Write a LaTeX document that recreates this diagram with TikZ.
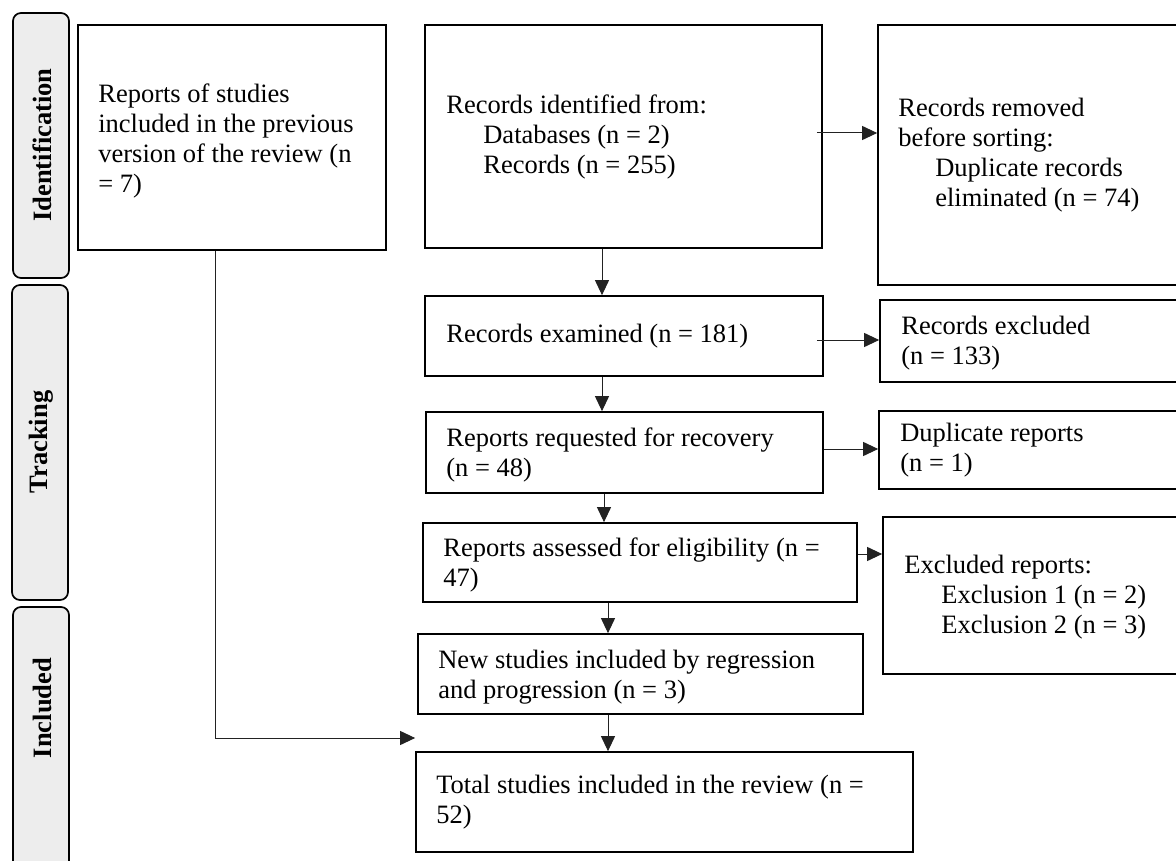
\documentclass[tikz,border=0pt]{standalone}
\usepackage{fontspec}
\setmainfont{Liberation Serif}
\usetikzlibrary{arrows.meta}

\definecolor{phasefill}{HTML}{EDEDED}
\definecolor{linkgray}{HTML}{222222}

\tikzset{
  box/.style={draw=black, line width=1.7pt, fill=white, rectangle, inner sep=0pt},
  txt/.style={anchor=west, align=left, inner sep=0pt,
              font=\fontsize{26.5}{30}\selectfont},
  phase/.style={draw=black, line width=1.7pt, fill=phasefill, rounded corners=8pt},
  phaselabel/.style={rotate=90, inner sep=0pt,
                     font=\fontsize{26.5}{30}\selectfont\bfseries},
  link/.style={draw=linkgray, line width=1pt,
               -{Triangle[length=15pt, width=14pt]}},
}
\newcommand{\ind}{\hspace*{37pt}}

\begin{document}
\begin{tikzpicture}[x=1pt, y=-1pt]
  \useasboundingbox (0,0) rectangle (1176,861);
  \clip (0,0) rectangle (1176,861);

  % phase bars on the left
  \draw[phase] (13,13) rectangle (69,278);
  \node[phaselabel] (pid) at (42,145) {Identification};
  \draw[phase] (12,285) rectangle (68,600);
  \node[phaselabel] (ptr) at (41,442) {Tracking};
  \draw[phase] (13,607) rectangle (69,900);
  \node[phaselabel] (pin) at (42,708) {Included};

  % boxes: centre = midpoint of the corners, size = corner differences
  \node[box, minimum width=308, minimum height=225] (A) at (232,137.5) {};
  \node[box, minimum width=397, minimum height=223] (B) at (623.5,136.5) {};
  \node[box, minimum width=320, minimum height=260] (C) at (1038,155) {};
  \node[box, minimum width=398, minimum height=80]  (D) at (624,336) {};
  \node[box, minimum width=320, minimum height=82]  (E) at (1040,341) {};
  \node[box, minimum width=397, minimum height=81]  (F) at (624.5,452.5) {};
  \node[box, minimum width=320, minimum height=78]  (G) at (1039,450) {};
  \node[box, minimum width=434, minimum height=79]  (H) at (640,562.5) {};
  \node[box, minimum width=320, minimum height=157] (I) at (1043,595.5) {};
  \node[box, minimum width=445, minimum height=80]  (J) at (640.5,674) {};
  \node[box, minimum width=497, minimum height=100] (K) at (664.5,802) {};

  % box texts
  \node[txt] (At) at ([xshift=21pt,yshift=-3pt]A.west)
    {Reports of studies\\ included in the previous\\ version of the review (n\\ = 7)};
  \node[txt] (Bt) at ([xshift=22pt]B.west)
    {Records identified from:\\ \ind Databases (n = 2)\\ \ind Records (n = 255)};
  \node[txt] (Ct) at ([xshift=21pt]C.west)
    {Records removed\\ before sorting:\\ \ind Duplicate records\\ \ind eliminated (n = 74)};
  \node[txt] (Dt) at ([xshift=22pt]D.west) {Records examined (n = 181)};
  \node[txt] (Et) at ([xshift=22pt,yshift=-2pt]E.west) {Records excluded\\ (n = 133)};
  \node[txt] (Ft) at ([xshift=21pt,yshift=-2pt]F.west) {Reports requested for recovery\\ (n = 48)};
  \node[txt] (Gt) at ([xshift=22pt]G.west) {Duplicate reports\\ (n = 1)};
  \node[txt] (Ht) at ([xshift=21pt,yshift=-2pt]H.west) {Reports assessed for eligibility (n =\\ 47)};
  \node[txt] (It) at ([xshift=22pt,yshift=-2pt]I.west)
    {Excluded reports:\\ \ind Exclusion 1 (n = 2)\\ \ind Exclusion 2 (n = 3)};
  \node[txt] (Jt) at ([xshift=21pt,yshift=-3pt]J.west) {New studies included by regression\\ and progression (n = 3)};
  \node[txt] (Kt) at ([xshift=21pt]K.west) {Total studies included in the review (n =\\ 52)};

  % vertical flow
  \draw[link] (B.south -| 602,0) -- (D.north -| 602,0);
  \draw[link] (D.south -| 602,0) -- (F.north -| 602,0);
  \draw[link] (F.south -| 604,0) -- (H.north -| 604,0);
  \draw[link] (H.south -| 608,0) -- (J.north -| 608,0);
  \draw[link] (J.south -| 608,0) -- (K.north -| 608,0);

  % side exits
  \draw[link] ([xshift=-6pt]B.east |- 0,133) -- (C.west |- 0,133);
  \draw[link] ([xshift=-7pt]D.east |- 0,340) -- (E.west |- 0,340);
  \draw[link] (F.east |- 0,449) -- (G.west |- 0,449);
  \draw[link] (H.east |- 0,554) -- (I.west |- 0,554);

  % previous review studies into the total
  \coordinate (bend) at (215,738);
  \draw[link] (A.south -| bend) -- (bend) -- (K.west |- bend);
\end{tikzpicture}
\end{document}
